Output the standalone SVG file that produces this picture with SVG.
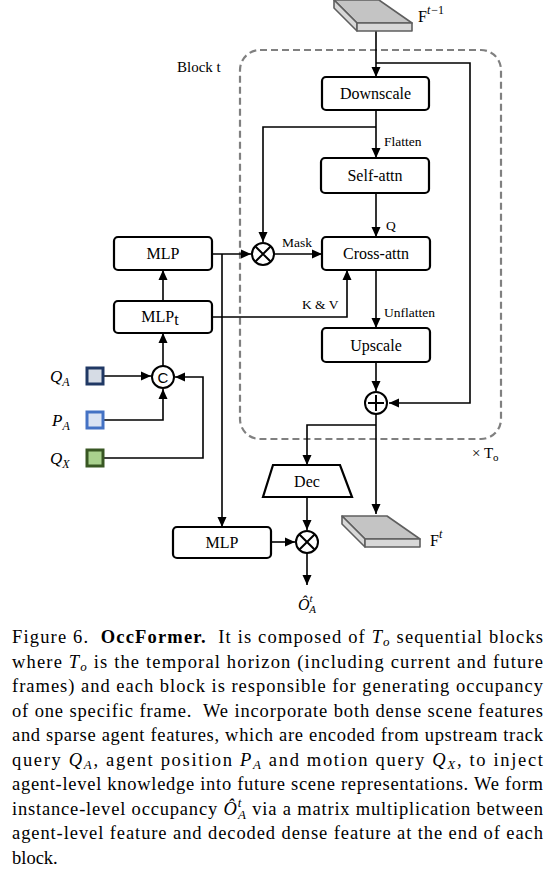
<svg xmlns="http://www.w3.org/2000/svg" width="555" height="872" viewBox="0 0 555 872">
<style>
.box{fill:#fff;stroke:#000;stroke-width:2.2}
.lbl{font-family:"Liberation Serif",serif;font-size:16px;text-anchor:middle;fill:#000}
.sm{font-family:"Liberation Serif",serif;font-size:13.5px;fill:#000}
.wire{fill:none;stroke:#000;stroke-width:1.6}
.arr{marker-end:url(#ah)}
.op{fill:#fff;stroke:#000;stroke-width:2}
.sym{stroke:#000;stroke-width:2;fill:none}
.cap{font-family:"Liberation Serif",serif;font-size:18.5px;fill:#000}
.it{font-style:italic}
.slabtop{fill:#c4c4c4;stroke:#5f5f5f;stroke-width:1.6;stroke-linejoin:round}
.slabside{fill:#d8d8d8;stroke:#5f5f5f;stroke-width:1.6;stroke-linejoin:round}
.math{font-family:"Liberation Serif",serif;font-style:italic;fill:#000}
</style>
<defs>
<marker id="ah" markerUnits="userSpaceOnUse" markerWidth="10" markerHeight="10" viewBox="0 0 10 10" refX="10" refY="5" orient="auto">
<path d="M0,0.5 L10,5 L0,9.5 z" fill="#000"/>
</marker>
</defs>
<rect width="555" height="872" fill="#fff"/>

<g id="block">
<rect x="240" y="50" width="261" height="389" rx="20" ry="20" fill="none" stroke="#808080" stroke-width="2.2" stroke-dasharray="7 4"/>
<text x="177" y="72" font-family="Liberation Serif,serif" font-size="15">Block t</text>
<text x="472" y="458" font-family="Liberation Serif,serif" font-size="15">× T<tspan font-size="11" dy="3">o</tspan></text>
</g>

<g id="connectors">
<path class="wire arr" d="M376,31 V77"/>
<path class="wire arr" d="M376,63 H470 V403 H389"/>
<path class="wire arr" d="M376,110 V158"/>
<path class="wire arr" d="M376,127 H263 V242"/>
<path class="wire arr" d="M376,193 V237"/>
<path class="wire arr" d="M212,254 H251"/>
<path class="wire arr" d="M274,254 H322"/>
<path class="wire arr" d="M222,254 V527"/>
<path class="wire arr" d="M212,317 H347 V270"/>
<path class="wire arr" d="M163,301 V270"/>
<path class="wire arr" d="M163,366 V333"/>
<path class="wire arr" d="M104,376 H151"/>
<path class="wire arr" d="M104,420 H163 V389"/>
<path class="wire arr" d="M104,458 H203 V377 H175"/>
<path class="wire arr" d="M376,270 V328"/>
<path class="wire arr" d="M376,362 V391"/>
<path class="wire arr" d="M376,414 V514"/>
<path class="wire arr" d="M376,425 H307 V465"/>
<path class="wire arr" d="M307,497 V530"/>
<path class="wire arr" d="M271,542 H295"/>
<path class="wire arr" d="M307,553 V585"/>
<text class="sm" x="384" y="146">Flatten</text>
<text class="sm" x="386" y="230">Q</text>
<text class="sm" x="282" y="247">Mask</text>
<text class="sm" x="302" y="309">K &amp; V</text>
<text class="sm" x="384" y="317">Unflatten</text>
</g>

<g id="f_prev">
<polygon class="slabtop" points="334,0 379,0 412,23 357,23"/>
<polygon class="slabside" points="334,0 357,23 357,31 334,8"/>
<polygon class="slabside" points="357,23 412,23 412,31 357,31"/>
<text x="418" y="22" font-family="Liberation Serif,serif" font-size="16">F<tspan font-size="12" dy="-8" font-style="italic">t</tspan><tspan font-size="12" dx="1">−1</tspan></text>
</g>

<g id="downscale">
<rect class="box" x="322" y="77" width="107" height="33" rx="4"/>
<text class="lbl" x="375.5" y="99">Downscale</text>
</g>

<g id="selfattn">
<rect class="box" x="321" y="158" width="108" height="35" rx="4"/>
<text class="lbl" x="375" y="181">Self-attn</text>
</g>

<g id="crossattn">
<rect class="box" x="322" y="237" width="108" height="33" rx="4"/>
<text class="lbl" x="376" y="259">Cross-attn</text>
</g>

<g id="mask_mul">
<circle class="op" cx="263" cy="254" r="11"/>
<path class="sym" d="M255.2,246.2 L270.8,261.8 M270.8,246.2 L255.2,261.8"/>
</g>

<g id="mlp_top">
<rect class="box" x="114" y="237" width="98" height="33" rx="4"/>
<text class="lbl" x="163" y="259" font-size="15">MLP</text>
</g>

<g id="mlp_t">
<rect class="box" x="114" y="301" width="98" height="32" rx="4"/>
<text class="lbl" x="160" y="322" font-size="15">MLP<tspan dy="3">t</tspan></text>
</g>

<g id="concat">
<circle class="op" cx="163" cy="377" r="11"/>
<text x="163" y="383" text-anchor="middle" font-family="Liberation Sans,sans-serif" font-size="15">C</text>
</g>

<g id="qa">
<rect x="87" y="368" width="16" height="16" fill="#d6dce5" stroke="#203864" stroke-width="3"/>
<text class="math" x="50" y="382" font-size="17">Q<tspan font-size="12" dy="4">A</tspan></text>
</g>
<g id="pa">
<rect x="87" y="412" width="16" height="16" fill="#dae3f3" stroke="#4472c4" stroke-width="3"/>
<text class="math" x="52" y="426" font-size="17">P<tspan font-size="12" dy="4">A</tspan></text>
</g>
<g id="qx">
<rect x="87" y="450" width="16" height="16" fill="#a9d18e" stroke="#385723" stroke-width="3"/>
<text class="math" x="50" y="464" font-size="17">Q<tspan font-size="12" dy="4">X</tspan></text>
</g>

<g id="upscale">
<rect class="box" x="322" y="328" width="108" height="34" rx="4"/>
<text class="lbl" x="376" y="351">Upscale</text>
</g>

<g id="plus">
<circle class="op" cx="376" cy="403" r="11"/>
<path class="sym" stroke-width="3" d="M368,403 H384 M376,395 V411"/>
</g>

<g id="dec">
<polygon class="box" points="273,465 340,465 352,497 263,497"/>
<text class="lbl" x="307" y="487" font-size="15.5">Dec</text>
</g>

<g id="mlp_bottom">
<rect class="box" x="173" y="527" width="98" height="31" rx="4"/>
<text class="lbl" x="222" y="548" font-size="15">MLP</text>
</g>

<g id="out_mul">
<circle class="op" cx="307" cy="542" r="11"/>
<path class="sym" d="M299.2,534.2 L314.8,549.8 M314.8,534.2 L299.2,549.8"/>
</g>

<g id="output">
<text class="math" x="298" y="610" font-size="16">Ô<tspan font-size="11" dy="-8">t</tspan><tspan font-size="11" dx="-3.5" dy="11">A</tspan></text>
</g>

<g id="f_t">
<polygon class="slabtop" points="342,516 387,516 420,539 365,539"/>
<polygon class="slabside" points="342,516 365,539 365,547 342,524"/>
<polygon class="slabside" points="365,539 420,539 420,547 365,547"/>
<text x="430" y="546" font-family="Liberation Serif,serif" font-size="16">F<tspan font-size="12" dy="-8" font-style="italic">t</tspan></text>
</g>

<g id="caption">
<text class="cap" x="12" y="643" textLength="531" lengthAdjust="spacing" xml:space="preserve">Figure 6.  <tspan font-weight="bold">OccFormer.</tspan>  It is composed of <tspan class="it">T</tspan><tspan class="it" font-size="13" dy="3">o</tspan><tspan dy="-3"> sequential blocks</tspan></text>
<text class="cap" x="12" y="667.5" textLength="531" lengthAdjust="spacing">where <tspan class="it">T</tspan><tspan class="it" font-size="13" dy="3">o</tspan><tspan dy="-3"> is the temporal horizon (including current and future</tspan></text>
<text class="cap" x="12" y="692" textLength="531" lengthAdjust="spacing">frames) and each block is responsible for generating occupancy</text>
<text class="cap" x="12" y="716.5" textLength="531" lengthAdjust="spacing" xml:space="preserve">of one specific frame.  We incorporate both dense scene features</text>
<text class="cap" x="12" y="741" textLength="531" lengthAdjust="spacing">and sparse agent features, which are encoded from upstream track</text>
<text class="cap" x="12" y="765.5" textLength="531" lengthAdjust="spacing">query <tspan class="it">Q</tspan><tspan class="it" font-size="13" dy="3">A</tspan><tspan dy="-3">, agent position </tspan><tspan class="it">P</tspan><tspan class="it" font-size="13" dy="3">A</tspan><tspan dy="-3"> and motion query </tspan><tspan class="it">Q</tspan><tspan class="it" font-size="13" dy="3">X</tspan><tspan dy="-3">, to inject</tspan></text>
<text class="cap" x="12" y="790" textLength="531" lengthAdjust="spacing">agent-level knowledge into future scene representations. We form</text>
<text class="cap" x="12" y="814.5" textLength="531" lengthAdjust="spacing">instance-level occupancy <tspan class="it">Ô</tspan><tspan class="it" font-size="13" dy="-8">t</tspan><tspan class="it" font-size="13" dx="-4" dy="12">A</tspan><tspan dy="-4"> via a matrix multiplication between</tspan></text>
<text class="cap" x="12" y="839" textLength="531" lengthAdjust="spacing">agent-level feature and decoded dense feature at the end of each</text>
<text class="cap" x="12" y="863.5">block.</text>
</g>
</svg>
